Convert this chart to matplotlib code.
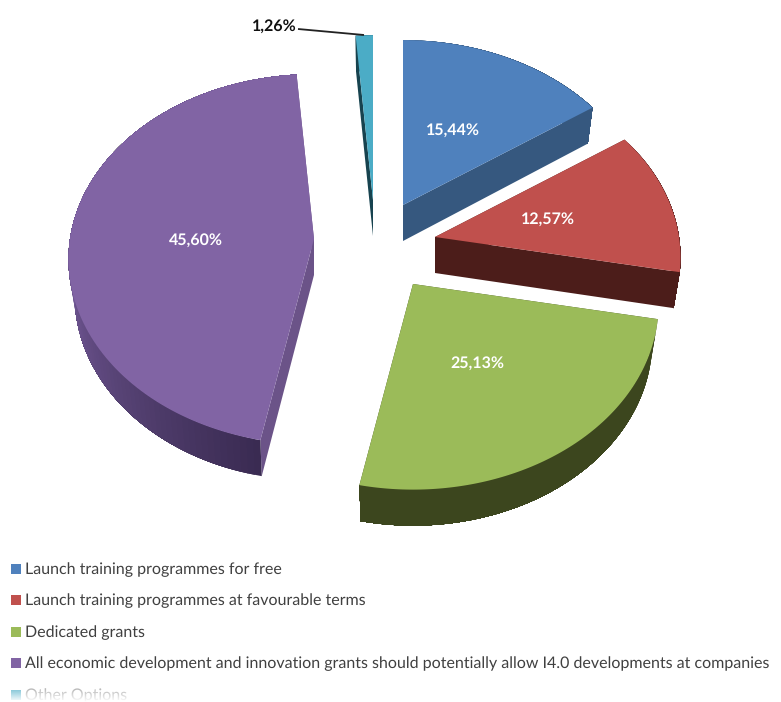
import matplotlib
matplotlib.use('Agg')
import matplotlib.pyplot as plt
import numpy as np
from matplotlib.colors import to_rgb
from matplotlib.patches import Polygon, Rectangle

categories = ['Launch training programmes for free',
              'Launch training programmes at favourable terms',
              'Dedicated grants',
              'All economic development and innovation grants should potentially allow I4.0 developments at companies',
              'Other Options']
shares = [15.44, 12.57, 25.13, 45.60, 1.26]
value_labels = ['15,44%', '12,57%', '25,13%', '45,60%', '1,26%']

top_colors = ['#4F81BD', '#C0504D', '#9BBB59', '#8164A4', '#4BACC6']
cut_colors = ['#36587F', '#4C1D1A', '#3F4A20', '#6B5388', '#17434F']
rim_dark = ['#36587F', '#4C1D1A', '#3C461E', '#3A2B52', '#17434F']
rim_light = ['#36587F', '#4C1D1A', '#434F23', '#7A5F9F', '#17434F']

# layout in pixels, the axes run over the whole figure
apexes = [(403, 205), (435, 237), (413, 284), (314, 239), (373, 200)]
label_pos = [(453, 130), (548, 219), (477, 363), (196, 240), (274, 26)]
legend_y = [570, 601, 633, 664, 696]
RX, RY, PERSP = 244, 183, 0.11
DEPTH = 36
BASE_SHRINK = 0.975

plt.rcParams['font.family'] = ['Lato', 'DejaVu Sans']
plt.rcParams['text.hinting'] = 'no_hinting'
plt.rcParams['text.hinting_factor'] = 1

fig = plt.figure(figsize=(7.81, 7.02), dpi=100)
ax = fig.add_axes([0, 0, 1, 1])
ax.set_xlim(0, 781)
ax.set_ylim(702, 0)
ax.axis('off')


def project(apex, theta, lower=False):
    # theta in degrees, clockwise from twelve o'clock, on a tilted disc
    u = np.sin(np.radians(theta))
    v = np.cos(np.radians(theta))
    s = 1 / (1 + PERSP * v)
    x = RX * u * s
    y = -RY * v * s
    if lower:
        return apex[0] + x * BASE_SHRINK, apex[1] + y + DEPTH
    return apex[0] + x, apex[1] + y


def mix(c1, c2, t):
    return tuple((1 - t) * a + t * b for a, b in zip(to_rgb(c1), to_rgb(c2)))


def draw_slice(i, start, end):
    apex = apexes[i]
    low_apex = (apex[0], apex[1] + DEPTH)
    # cut faces
    for th in (start, end):
        pts = [apex, project(apex, th), project(apex, th, True), low_apex]
        ax.add_patch(Polygon(pts, closed=True, fc=cut_colors[i], ec='none'))
    # outer wall, lighter towards the left of the disc; each band runs on to
    # the end of the slice and the next one paints over it, so no seams show
    steps = np.arange(start, end, 1.5)
    for th in steps:
        t = np.clip((th - 191) / 80, 0, 1)
        col = mix(rim_dark[i], rim_light[i], t)
        arc = np.linspace(th, end, 60)
        pts = [project(apex, a) for a in arc] + [project(apex, a, True) for a in arc[::-1]]
        ax.add_patch(Polygon(pts, closed=True, fc=col, ec='none'))
    # top face
    arc = [project(apex, th) for th in np.linspace(start, end, 120)]
    ax.add_patch(Polygon([apex] + arc, closed=True, fc=top_colors[i], ec='none'))


bounds = np.concatenate([[0], np.cumsum(shares)]) / sum(shares) * 360
for i in range(len(shares)):
    draw_slice(i, bounds[i], bounds[i + 1])

for i in range(4):
    ax.text(label_pos[i][0], label_pos[i][1], value_labels[i], color='white', fontsize=11.6,
            fontweight='bold', ha='center', va='center')
ax.text(label_pos[4][0], label_pos[4][1], value_labels[4], color='#111111', fontsize=11.6,
        fontweight='bold', ha='center', va='center')
ax.plot([298, 364], [29, 35], color='#222222', lw=1.3, solid_capstyle='butt')

text_colors = ['#404040'] * 4 + ['#9a9a9a']
for i, name in enumerate(categories):
    ax.add_patch(Rectangle((11, legend_y[i] - 6), 10, 10, fc=top_colors[i], ec='none'))
    ax.text(25, legend_y[i], name, color=text_colors[i], fontsize=11.66, ha='left', va='center')

# the last legend row fades out at the lower edge
fade = np.ones((30, 2, 4))
fade[:, :, 3] = np.linspace(0.15, 1, 30)[:, None]
ax.imshow(fade, extent=(0, 781, 702, 686), aspect='auto', zorder=5)
ax.set_xlim(0, 781)
ax.set_ylim(702, 0)

fig.savefig('out.png', dpi=100)
